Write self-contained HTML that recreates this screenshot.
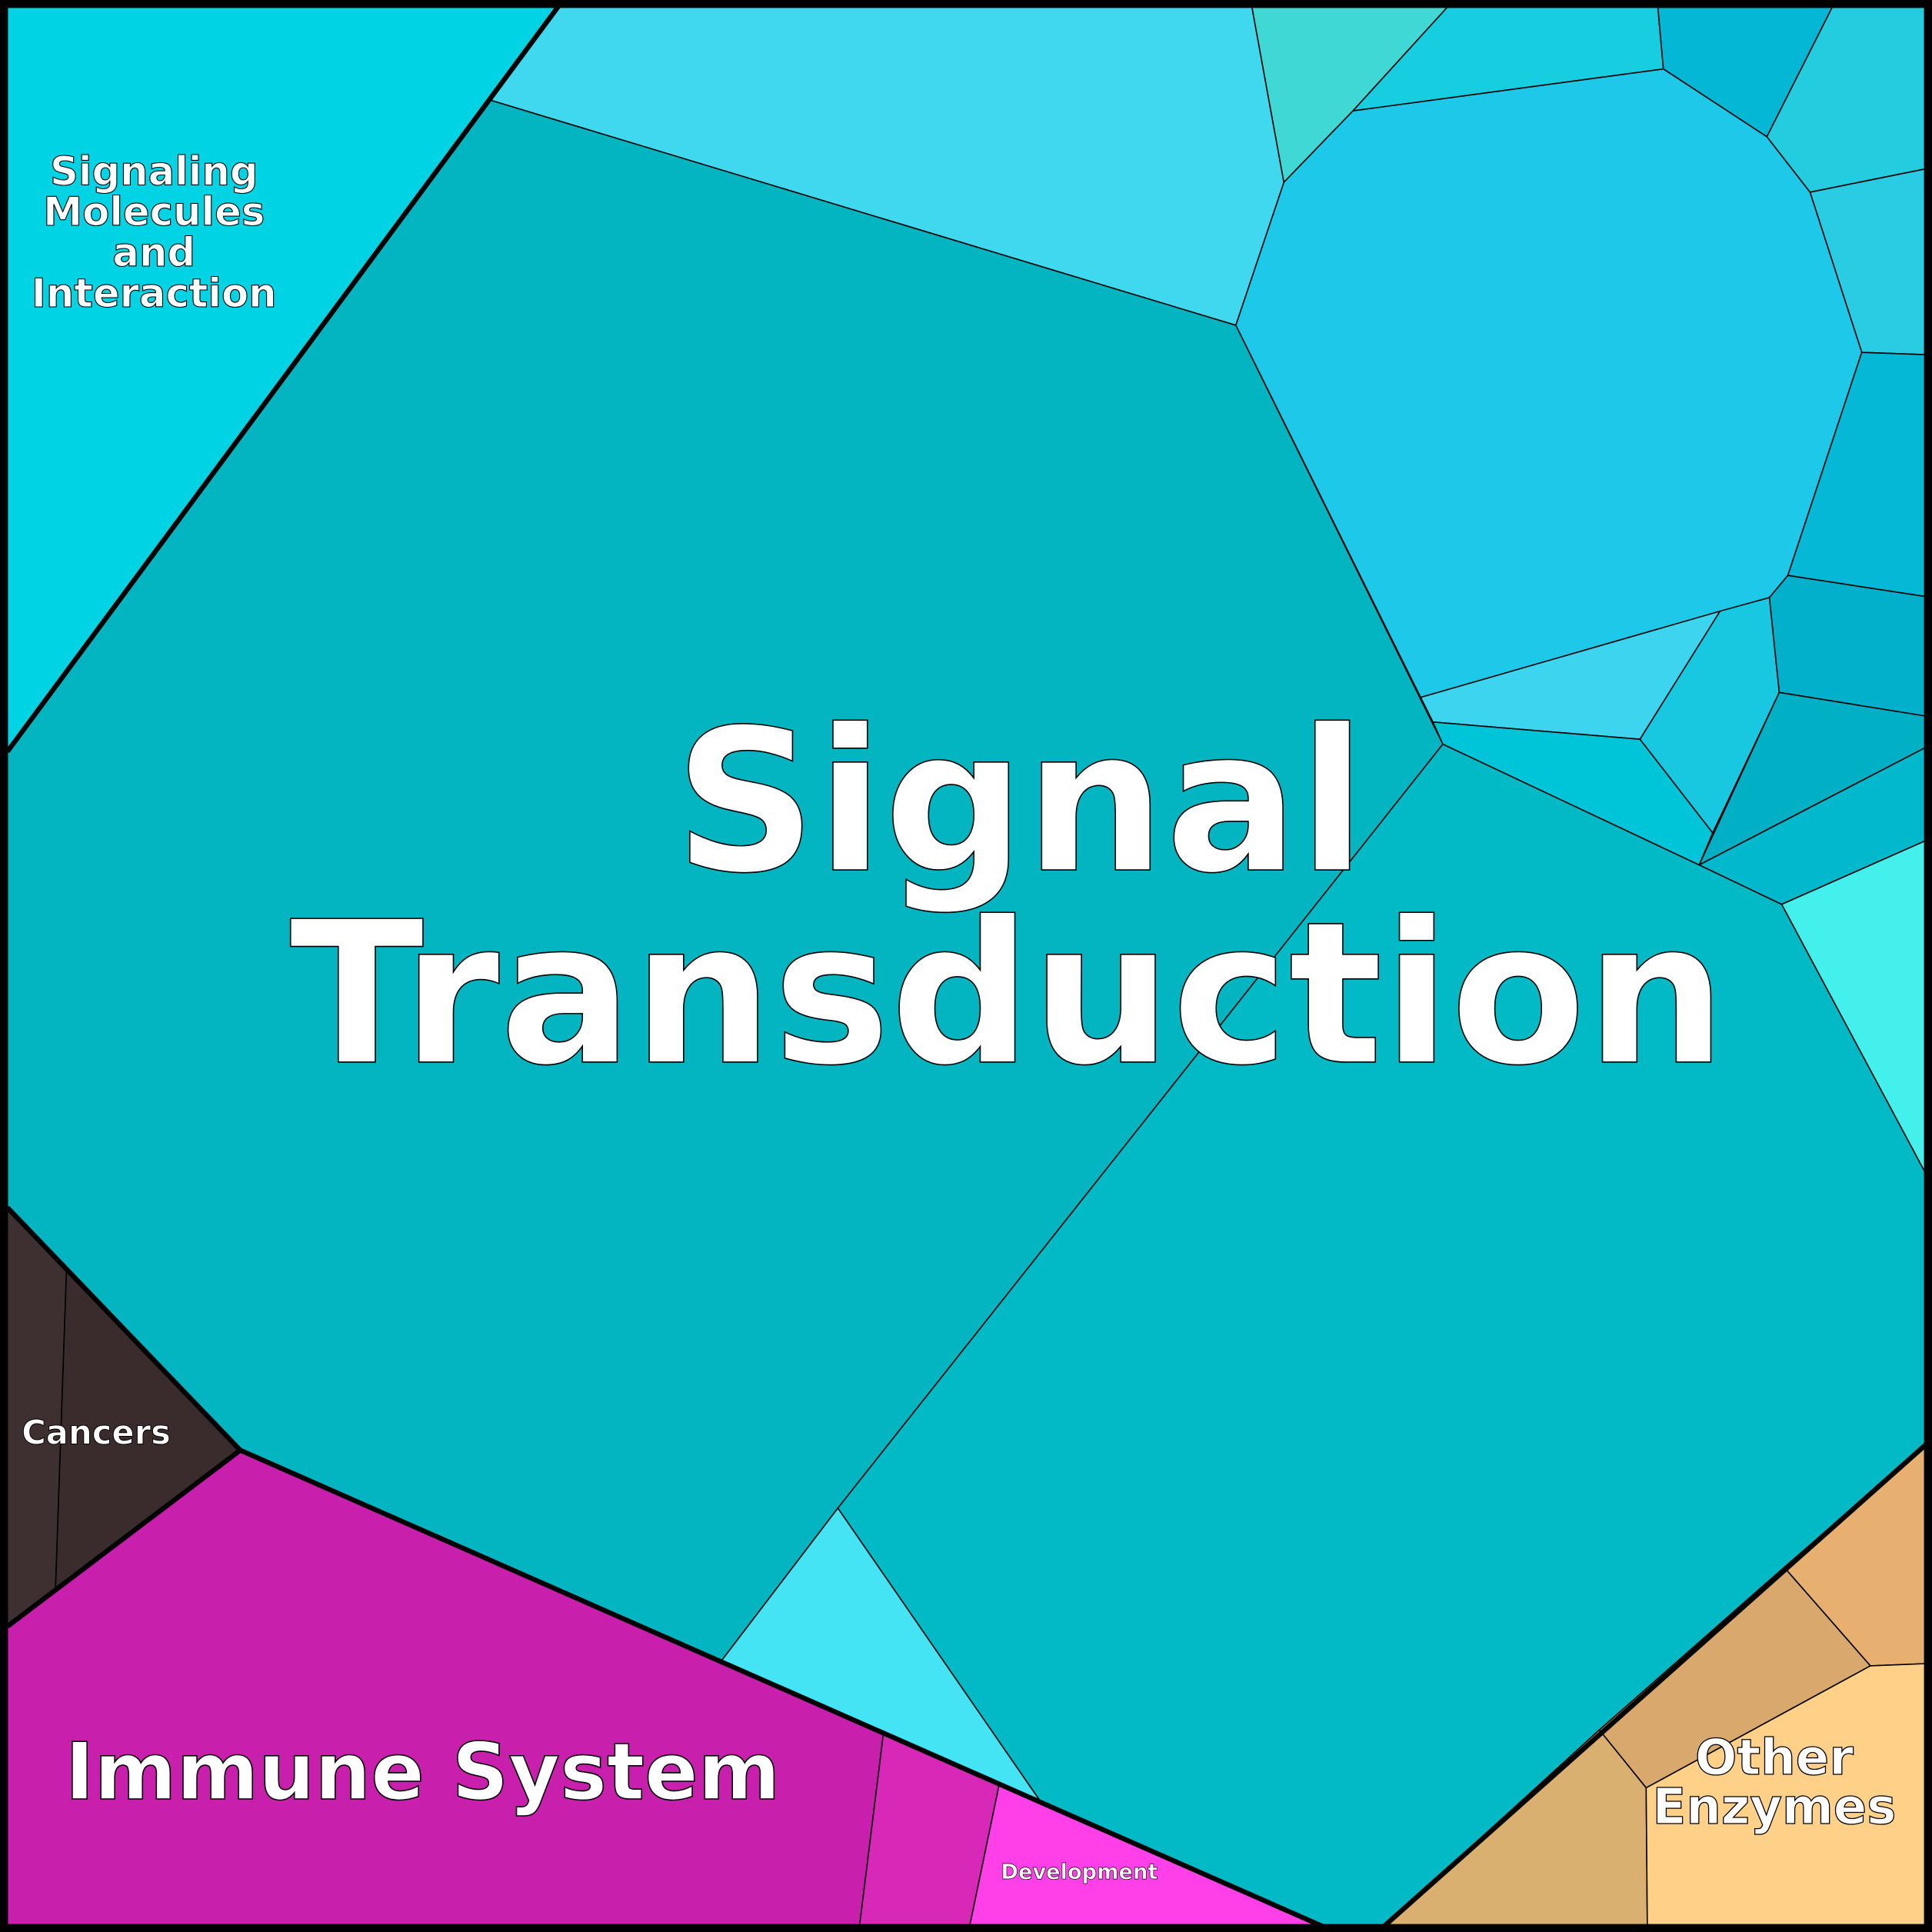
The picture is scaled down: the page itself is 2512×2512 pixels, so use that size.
<!DOCTYPE html>
<html><head><meta charset="utf-8"><style>html,body{margin:0;padding:0;background:#fff}svg{display:block}</style></head>
<body>
<svg width="2512" height="2512" viewBox="0 0 1568 1568" xmlns="http://www.w3.org/2000/svg">
<g stroke="#000" stroke-width="1" stroke-linejoin="round">
<polygon points="0,0 457,0 6,610 0,610" fill="#00D4E4"/>
<polygon points="457,0 1015,0 1042,148 1003,264 397,81" fill="#40D8EE"/>
<polygon points="1015,0 1180,0 1098,90 1042,148" fill="#40D8D4"/>
<polygon points="1180,0 1345,0 1350,56 1098,90" fill="#17CDE0"/>
<polygon points="1345,0 1490,0 1434,111 1350,56" fill="#04B7D4"/>
<polygon points="1490,0 1568,0 1568,136 1469,156 1434,111" fill="#24CCE0"/>
<polygon points="1469,156 1568,136 1568,288 1511,286" fill="#2ACCE4"/>
<polygon points="1098,90 1350,56 1434,111 1469,156 1511,286 1451,467 1436,485 1153,566 1003,264 1042,148" fill="#1DC8E8"/>
<polygon points="1511,286 1568,288 1568,485 1451,467" fill="#04B8D6"/>
<polygon points="1451,467 1568,485 1568,582 1444,562 1436,485" fill="#02B0CC"/>
<polygon points="1153,566 1396,496 1331,600 1163,586" fill="#3CD4EE"/>
<polygon points="1396,496 1436,485 1444,562 1390,676 1331,600" fill="#18C8E0"/>
<polygon points="1163,586 1331,600 1390,676 1379,702 1171,604" fill="#00C4D8"/>
<polygon points="1444,562 1568,582 1568,604 1379,702" fill="#02B0C6"/>
<polygon points="1379,702 1568,604 1568,680 1446,734" fill="#02B8CC"/>
<polygon points="1446,734 1568,680 1568,962" fill="#44F0EC"/>
<polygon points="397,81 1003,264 1171,604 680,1224 585,1348.6 195,1177 6,980 6,610" fill="#02B5C0"/>
<polygon points="1171,604 1379,702 1446,734 1568,962 1568,1168 1118,1568 1084,1568 845,1462.9 680,1224" fill="#02BAC6"/>
<polygon points="680,1224 845,1462.9 585,1348.6" fill="#44E4F4"/>
<polygon points="0,974 6,980 54,1030 45,1290.5 6,1320 0,1325" fill="#3E3030"/>
<polygon points="54,1030 195,1177 45,1290.5" fill="#3A2C2C"/>
<polygon points="0,1320 6,1320 195,1177 717,1406.6 697,1568 0,1568" fill="#C820AC"/>
<polygon points="717,1406.6 811,1448 786,1568 697,1568" fill="#D828B8"/>
<polygon points="811,1448 1084,1568 786,1568" fill="#FF40E8"/>
<polygon points="1448,1272 1568,1168 1568,1350 1518,1352" fill="#E8B070"/>
<polygon points="1298,1404 1448,1272 1518,1352 1336,1451" fill="#D8A86C"/>
<polygon points="1118,1568 1298,1404 1336,1451 1337,1568" fill="#DAB070"/>
<polygon points="1336,1451 1518,1352 1568,1350 1568,1568 1337,1568" fill="#FFD088"/>
</g>
<g stroke="#000" stroke-width="4" fill="none" stroke-linejoin="round">
<polyline points="457,0 6,610"/>
<polyline points="6,980 195,1177 6,1320"/>
<polyline points="195,1177 1084,1568"/>
<polyline points="1118,1568 1568,1168"/>
<rect x="3" y="3" width="1562" height="1562" stroke-width="7"/>
</g>
<g font-family="'DejaVu Sans','Liberation Sans',sans-serif" font-weight="bold" fill="#fff" stroke="#000" stroke-width="1" text-anchor="middle">
<text x="828" y="706" font-size="160">Signal</text>
<text x="818" y="862" font-size="160">Transduction</text>
<text font-size="32" stroke-width="0.7"><tspan x="125" y="150">Signaling</tspan><tspan x="125" y="183">Molecules</tspan><tspan x="125" y="216">and</tspan><tspan x="125" y="249">Interaction</tspan></text>
<text x="78" y="1172" font-size="27" stroke-width="0.6">Cancers</text>
<text x="343" y="1460" font-size="64">Immune System</text>
<text x="876" y="1525" font-size="17" stroke-width="0.4">Development</text>
<text font-size="40" stroke-width="0.8"><tspan x="1440" y="1440">Other</tspan><tspan x="1440" y="1480">Enzymes</tspan></text>
</g>
</svg>
</body></html>
